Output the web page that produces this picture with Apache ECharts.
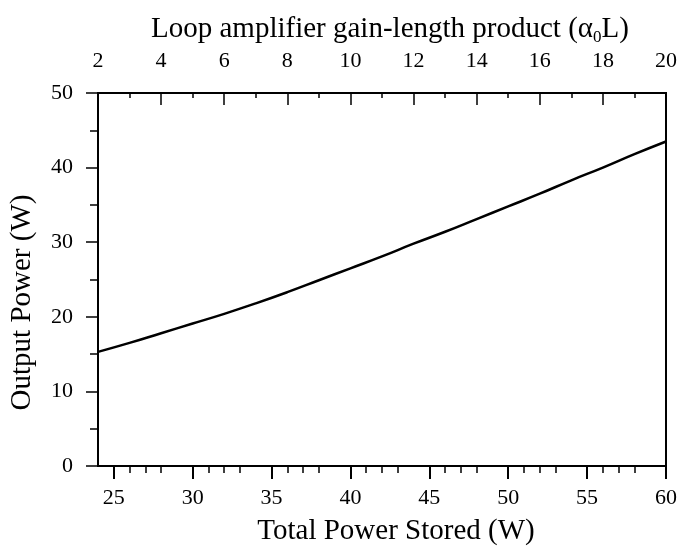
<!DOCTYPE html>
<html>
<head>
<meta charset="utf-8">
<script src="https://cdn.jsdelivr.net/npm/echarts@6/dist/echarts.min.js"></script>
<style>html,body{margin:0;padding:0;background:#fff}#c{width:682px;height:551px}</style>
</head>
<body>
<div id="c"></div>
<script>
var storedPower = [24, 26, 28, 30, 32, 34, 36, 38, 40, 42, 44, 46, 48, 50, 52, 54, 56, 58, 60];
var outputPower = [15.3, 16.5, 17.8, 19.1, 20.4, 21.8, 23.3, 24.9, 26.5, 28.1, 29.8, 31.4, 33.1, 34.8, 36.5, 38.3, 40.0, 41.8, 43.5];
var bottomTicks = [25, 30, 35, 40, 45, 50, 55, 60];
var bottomTitle = 'Total Power Stored (W)';
var leftTitle = 'Output Power (W)';

var font = 'Liberation Serif';
var chart = echarts.init(document.getElementById('c'), null, {renderer: 'canvas'});
var data = storedPower.map(function (x, i) { return [x, outputPower[i]]; });
var axLine = {show: true, lineStyle: {color: '#000', width: 2}};
chart.setOption({
  animation: false,
  backgroundColor: '#fff',
  grid: {left: 97, right: 16, top: 93, bottom: 78, show: true, borderColor: '#000', borderWidth: 2},
  title: {
    text: 'Loop amplifier gain-length product (\u03b1{s|0}L)',
    left: 146, top: 8,
    textStyle: {fontFamily: font, fontSize: 29, fontWeight: 'normal', color: '#000',
      rich: {s: {fontFamily: font, fontSize: 17, verticalAlign: 'bottom', padding: [16, 0, 0, 0]}}}
  },
  xAxis: [{
    type: 'value', min: 24, max: 60, interval: 5, position: 'bottom',
    axisLine: axLine,
    axisTick: {show: true, inside: false, length: 13, lineStyle: {color: '#000', width: 2}, customValues: bottomTicks},
    minorTick: {show: true, splitNumber: 5, length: 7, lineStyle: {color: '#000', width: 1.5}},
    axisLabel: {fontFamily: font, fontSize: 22, color: '#000', margin: 21, customValues: bottomTicks},
    splitLine: {show: false},
    name: bottomTitle, nameLocation: 'middle', nameGap: 51,
    nameTextStyle: {fontFamily: font, fontSize: 29, color: '#000', padding: [0, 0, 0, 28]}
  }, {
    type: 'value', min: 2, max: 20, interval: 2, position: 'top',
    axisLine: axLine,
    axisTick: {show: true, inside: true, length: 12, lineStyle: {color: '#000', width: 1.5}},
    minorTick: {show: true, splitNumber: 2, length: 5, lineStyle: {color: '#000', width: 1.5}},
    axisLabel: {fontFamily: font, fontSize: 22, color: '#000', margin: 21},
    splitLine: {show: false}
  }],
  yAxis: [{
    type: 'value', min: 0, max: 50, interval: 10,
    axisLine: axLine,
    axisTick: {show: true, inside: false, length: 12, lineStyle: {color: '#000', width: 1.5}},
    minorTick: {show: true, splitNumber: 2, length: 8, lineStyle: {color: '#000', width: 1.5}},
    axisLabel: {fontFamily: font, fontSize: 22, color: '#000', margin: 25},
    splitLine: {show: false},
    name: leftTitle, nameLocation: 'middle', nameGap: 61, nameRotate: 90,
    nameTextStyle: {fontFamily: font, fontSize: 29, color: '#000', padding: [0, 46, 0, 0]}
  }],
  series: [{
    type: 'line', xAxisIndex: 0, data: data, smooth: true, showSymbol: false,
    lineStyle: {color: '#000', width: 2.5}
  }]
});
</script>
</body>
</html>
